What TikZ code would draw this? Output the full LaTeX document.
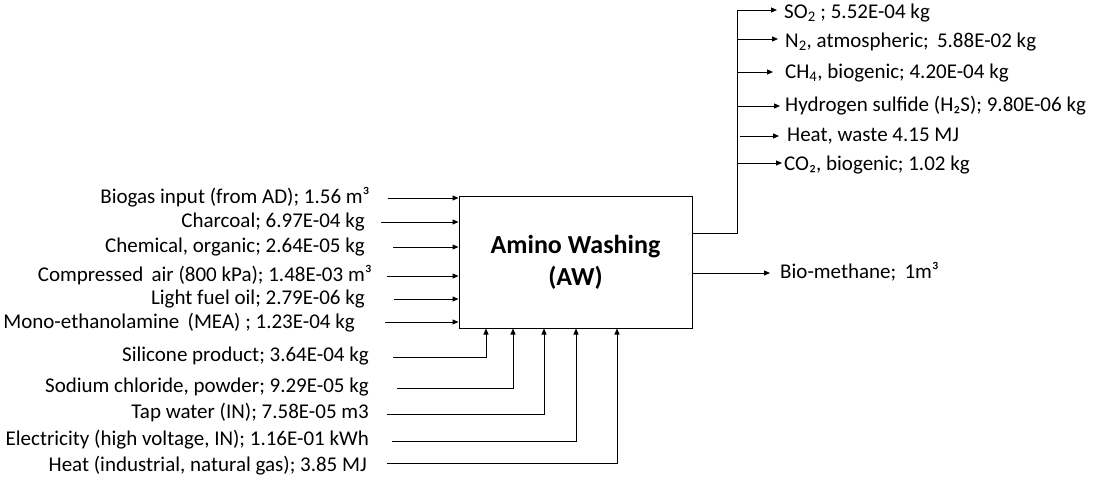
\documentclass[tikz,border=0pt]{standalone}
\usepackage{fontspec}
\setmainfont{Carlito}
\usetikzlibrary{arrows.meta,calc}
\begin{document}
\begin{tikzpicture}[x=1pt,y=-1pt,
  lbl/.style={inner sep=0pt,font=\fontsize{21}{25}\selectfont,text height=14pt,text depth=4pt},
  inl/.style={lbl,anchor=east},
  outl/.style={lbl,anchor=west},
  arr/.style={draw=black,line width=1pt,-{Triangle[length=6pt,width=5pt]}},
  ln/.style={draw=black,line width=1pt},
  procbox/.style={draw=black,line width=1pt,minimum width=233pt,minimum height=132pt,inner sep=0pt,align=center,font=\fontsize{26}{32}\selectfont\bfseries}]
\useasboundingbox (0,0) rectangle (1093,483);
\node[procbox] (box) at (575.5,262) {Amino Washing\\(AW)};
% left inputs
\node[inl] (i1) at (370,198) {Biogas input (from AD); 1.56 m³};
\node[inl] (i2) at (365,222) {Charcoal; 6.97E-04 kg};
\node[inl] (i3) at (365,247) {Chemical, organic; 2.64E-05 kg};
\node[inl] (i4) at (372,276) {Compressed\, air (800 kPa); 1.48E-03 m³};
\node[inl] (i5) at (365,299) {Light fuel oil; 2.79E-06 kg};
\node[inl] (i6) at (355,323) {Mono-ethanolamine\, (MEA) ; 1.23E-04 kg};
\coordinate (s1) at (388,198);
\coordinate (s2) at (381,222);
\coordinate (s3) at (393,247);
\coordinate (s4) at (387,276);
\coordinate (s5) at (394,299);
\coordinate (s6) at (385,322);
\foreach \k in {1,...,6} {\draw[arr] (s\k) -- (s\k -| box.west);}
% bottom inputs
\node[inl] (b1) at (369,356) {Silicone product; 3.64E-04 kg};
\node[inl] (b2) at (369,387) {Sodium chloride, powder; 9.29E-05 kg};
\node[inl] (b3) at (369,413) {Tap water (IN); 7.58E-05 m3};
\node[inl] (b4) at (369,440) {Electricity (high voltage, IN); 1.16E-01 kWh};
\node[inl] (b5) at (367,466) {Heat (industrial, natural gas); 3.85 MJ};
\coordinate (t1) at (393,357); \coordinate (u1) at (486,357);
\coordinate (t2) at (397,388); \coordinate (u2) at (513,388);
\coordinate (t3) at (387,414); \coordinate (u3) at (544,414);
\coordinate (t4) at (392,441); \coordinate (u4) at (576,441);
\coordinate (t5) at (387,463); \coordinate (u5) at (617,463);
\foreach \k in {1,...,5} {\draw[arr] (t\k) -- (u\k) -- (u\k |- box.south);}
% outputs
\coordinate (bj) at (692,233);
\coordinate (bus) at (737,233);
\coordinate (bustop) at (737,10);
\draw[ln] (bj) -- (bus) -- (bustop);
\node[outl] (o1) at (784,13) {SO\textsubscript{2} ; 5.52E-04 kg};
\node[outl] (o2) at (785,42) {N\textsubscript{2}, atmospheric;\, 5.88E-02 kg};
\node[outl] (o3) at (785,73) {CH\textsubscript{4}, biogenic; 4.20E-04 kg};
\node[outl] (o4) at (785,106) {Hydrogen sulfide (H₂S); 9.80E-06 kg};
\node[outl] (o5) at (787,136) {Heat, waste 4.15 MJ};
\node[outl] (o6) at (784,165) {CO₂, biogenic; 1.02 kg};
\draw[arr] (737,10) -- (777,10);
\draw[arr] (737,39) -- (778,39);
\draw[arr] (737,72) -- (773,72);
\draw[arr] (737,106) -- (780,106);
\draw[arr] (740,136) -- (779,136);
\draw[arr] (737,163) -- (782,163);
\node[outl] (bm) at (780,273) {Bio-methane;\, 1m³};
\coordinate (bme) at (692,273);
\draw[arr] (bme) -- (770,273);
\end{tikzpicture}
\end{document}
